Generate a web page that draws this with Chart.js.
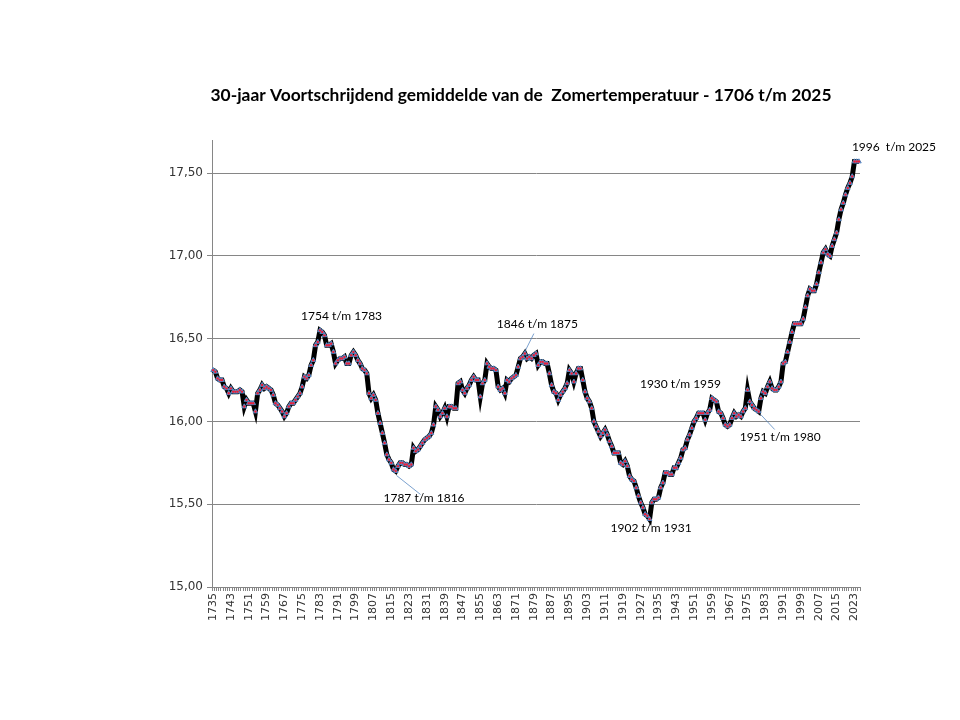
<!DOCTYPE html>
<html lang="nl">
<head>
  <meta charset="UTF-8">
  <title>30-jaar Voortschrijdend gemiddelde Zomertemperatuur</title>
  <script src="https://cdn.jsdelivr.net/npm/chart.js"></script>
  <style>
    html, body { margin: 0; padding: 0; background: #fff; }
    #chartContainer { width: 960px; height: 720px; position: relative; }
  </style>
</head>
<body>
  <div id="chartContainer">
    <canvas id="zomerChart"></canvas>
  </div>

  <script>
    // eindjaar van elk 30-jarig venster
    const eersteJaar = 1735;

    const gemiddelde = [
      16.31, 16.30, 16.26, 16.25, 16.25, 16.21, 16.20, 16.17, 16.20, 16.18, // 1735-1744
      16.18, 16.18, 16.19, 16.18, 16.09, 16.13, 16.11, 16.11, 16.11, 16.06, // 1745-1754
      16.17, 16.19, 16.22, 16.20, 16.21, 16.20, 16.19, 16.16, 16.11, 16.10, // 1755-1764
      16.08, 16.06, 16.03, 16.05, 16.09, 16.11, 16.11, 16.13, 16.15, 16.17, // 1765-1774
      16.21, 16.27, 16.26, 16.28, 16.34, 16.37, 16.46, 16.48, 16.55, 16.54, // 1775-1784
      16.52, 16.46, 16.46, 16.47, 16.42, 16.35, 16.37, 16.38, 16.38, 16.39, // 1785-1794
      16.35, 16.35, 16.40, 16.42, 16.40, 16.37, 16.35, 16.32, 16.31, 16.29, // 1795-1804
      16.17, 16.14, 16.16, 16.13, 16.05, 15.99, 15.93, 15.87, 15.80, 15.77, // 1805-1814
      15.75, 15.71, 15.70, 15.73, 15.75, 15.75, 15.74, 15.74, 15.73, 15.74, // 1815-1824
      15.84, 15.82, 15.83, 15.85, 15.87, 15.89, 15.90, 15.91, 15.93, 15.98, // 1825-1834
      16.09, 16.07, 16.03, 16.05, 16.08, 16.03, 16.09, 16.09, 16.08, 16.08, // 1835-1844
      16.23, 16.24, 16.19, 16.17, 16.20, 16.22, 16.25, 16.27, 16.25, 16.25, // 1845-1854
      16.15, 16.23, 16.25, 16.35, 16.33, 16.32, 16.32, 16.31, 16.21, 16.19, // 1855-1864
      16.20, 16.17, 16.25, 16.24, 16.26, 16.27, 16.28, 16.33, 16.38, 16.39, // 1865-1874
      16.41, 16.38, 16.39, 16.38, 16.40, 16.41, 16.34, 16.36, 16.36, 16.35, // 1875-1884
      16.35, 16.29, 16.22, 16.18, 16.17, 16.13, 16.16, 16.18, 16.20, 16.23, // 1885-1894
      16.31, 16.29, 16.24, 16.29, 16.32, 16.32, 16.25, 16.18, 16.14, 16.12, // 1895-1904
      16.08, 16.00, 15.97, 15.94, 15.91, 15.93, 15.95, 15.92, 15.88, 15.85, // 1905-1914
      15.81, 15.81, 15.81, 15.75, 15.74, 15.76, 15.73, 15.67, 15.65, 15.64, // 1915-1924
      15.60, 15.55, 15.51, 15.48, 15.44, 15.43, 15.41, 15.51, 15.53, 15.53, // 1925-1934
      15.54, 15.60, 15.63, 15.69, 15.69, 15.68, 15.68, 15.72, 15.72, 15.75, // 1935-1944
      15.78, 15.83, 15.84, 15.89, 15.92, 15.96, 16.00, 16.02, 16.05, 16.05, // 1945-1954
      16.05, 16.01, 16.05, 16.07, 16.14, 16.13, 16.12, 16.06, 16.05, 16.02, // 1955-1964
      15.98, 15.97, 15.98, 16.02, 16.05, 16.03, 16.04, 16.03, 16.06, 16.08, // 1965-1974
      16.19, 16.12, 16.10, 16.08, 16.07, 16.06, 16.14, 16.18, 16.17, 16.21, // 1975-1984
      16.24, 16.20, 16.19, 16.19, 16.21, 16.24, 16.35, 16.36, 16.42, 16.48, // 1985-1994
      16.54, 16.59, 16.59, 16.59, 16.59, 16.62, 16.69, 16.76, 16.80, 16.79, // 1995-2004
      16.79, 16.83, 16.90, 16.96, 17.02, 17.04, 17.01, 17.00, 17.06, 17.10, // 2005-2014
      17.14, 17.22, 17.28, 17.32, 17.37, 17.41, 17.44, 17.48, 17.57, 17.57, // 2015-2024
      17.57                                                                  // 2025
    ];

    const jaren = gemiddelde.map((v, i) => String(eersteJaar + i));

    // y-as ticks
    const yTicks = [15.0, 15.5, 16.0, 16.5, 17.0, 17.5];

    const titel = '30-jaar Voortschrijdend gemiddelde van de  Zomertemperatuur - 1706 t/m 2025';

    // tekstlabels bij bijzondere punten
    const annotatieTeksten = ['1754 t/m 1783', '1787 t/m 1816', '1846 t/m 1875', '1902 t/m 1931',
                              '1930 t/m 1959', '1951 t/m 1980', '1996  t/m 2025'];
    const annotatieJaren = [1783, 1816, 1875, 1931, 1959, 1980, 2025];

    // plaatsing van de labels t.o.v. het punt (tekst links, midden y) en eventueel een verbindingslijn
    const annotatieStijl = [
      { dx: -19, dy: -14 },
      { dx: -10, dy: 29, lijn: [3, 6, 27, 25] },
      { dx: -28, dy: -29, lijn: [0, -2, 9, -20] },
      { dx: -39, dy: 9 },
      { dx: -72, dy: -14 },
      { dx: -19, dy: 26, lijn: [2, 3, 16, 18] },
      { dx: -7, dy: -14 }
    ];

    const tekstPlugin = {
      id: 'teksten',
      afterDatasetsDraw(chart) {
        const ctx = chart.ctx;
        const xs = chart.scales.x;
        const ys = chart.scales.y;
        ctx.save();

        // titel, iets links van het midden van de plot zoals in het origineel
        ctx.font = 'bold 17.4px Lato';
        ctx.fillStyle = '#000';
        ctx.textAlign = 'center';
        ctx.textBaseline = 'middle';
        ctx.fillText(titel, 521, 95);

        ctx.font = '12px Lato';
        ctx.textAlign = 'left';
        annotatieTeksten.forEach((tekst, i) => {
          const idx = annotatieJaren[i] - eersteJaar;
          const px = xs.getPixelForValue(idx);
          const py = ys.getPixelForValue(gemiddelde[idx]);
          const s = annotatieStijl[i];
          if (s.lijn) {
            ctx.strokeStyle = '#4f81bd';
            ctx.lineWidth = 0.75;
            ctx.beginPath();
            ctx.moveTo(px + s.lijn[0], py + s.lijn[1]);
            ctx.lineTo(px + s.lijn[2], py + s.lijn[3]);
            ctx.stroke();
          }
          ctx.fillText(tekst, px + s.dx, py + s.dy);
        });
        ctx.restore();
      }
    };

    const ctx = document.getElementById('zomerChart').getContext('2d');
    const zomerChart = new Chart(ctx, {
      type: 'line',
      data: {
        labels: jaren,
        datasets: [
          {
            label: 'punten',
            data: gemiddelde,
            showLine: false,
            pointStyle: 'circle',
            pointRadius: 1.2,
            pointBorderWidth: 0,
            pointBackgroundColor: '#e8203a',
            order: 0
          },
          {
            label: '30-jaar gemiddelde',
            data: gemiddelde,
            borderColor: '#000',
            borderWidth: 5,
            tension: 0,
            pointStyle: 'triangle',
            pointRadius: 2.7,
            pointBorderWidth: 1,
            pointBorderColor: '#4f81bd',
            pointBackgroundColor: '#8db3e2',
            order: 1
          }
        ]
      },
      options: {
        responsive: true,
        maintainAspectRatio: false,
        animation: false,
        layout: { padding: { left: 160, right: 100, top: 140, bottom: 93 } },
        plugins: {
          legend: { display: false },
          tooltip: { enabled: false },
          title: { display: false }
        },
        scales: {
          x: {
            type: 'category',
            offset: true,
            grid: {
              offset: true,
              drawOnChartArea: false,
              drawTicks: true,
              tickLength: 4,
              color: '#868686'
            },
            border: { color: '#868686' },
            ticks: {
              autoSkip: false,
              minRotation: 90,
              maxRotation: 90,
              padding: 2,
              color: '#333',
              font: { family: 'DejaVu Sans', size: 11 },
              callback: function (value, index) {
                return index % 8 === 0 ? jaren[index] : '';
              }
            },
            afterFit: function (scale) { scale.height = 40; }
          },
          y: {
            min: 15,
            max: 17.7,
            grid: { color: '#868686', tickLength: 5 },
            border: { color: '#868686' },
            ticks: {
              stepSize: 0.5,
              padding: 4,
              color: '#333',
              font: { family: 'DejaVu Sans', size: 12 },
              callback: function (value) { return value.toFixed(2).replace('.', ','); }
            },
            afterBuildTicks: function (scale) {
              scale.ticks = yTicks.map(v => ({ value: v }));
            },
            afterFit: function (scale) { scale.width = 52; }
          }
        }
      },
      plugins: [tekstPlugin]
    });
  </script>
</body>
</html>
